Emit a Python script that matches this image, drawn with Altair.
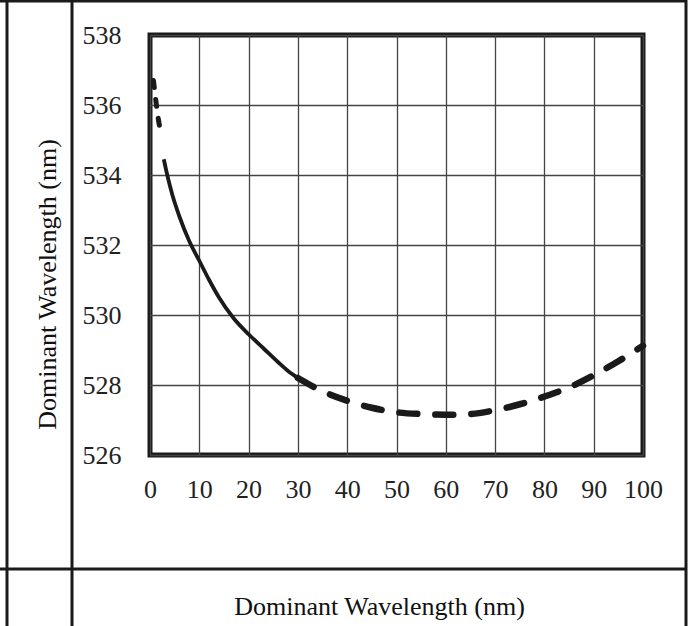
import altair as alt
import pandas as pd

# --- data ---
x_dash_a = [0.7, 1.3, 1.8, 2.3]
y_dash_a = [536.7, 536.0, 535.5, 535.15]

x_solid = [2.8, 3.5, 4.5, 6, 8, 10, 12, 14, 17, 20, 23, 26, 28, 30]
y_solid = [534.45, 534.0, 533.45, 532.8, 532.1, 531.55, 531.0, 530.5, 529.9, 529.45, 529.05, 528.65, 528.4, 528.2]

x_dash_b = [30, 35, 40, 45, 50, 55, 60, 65, 70, 75, 80, 85, 90, 95, 100]
y_dash_b = [528.2, 527.82, 527.55, 527.35, 527.22, 527.17, 527.15, 527.17, 527.28, 527.45, 527.67, 527.93, 528.28, 528.68, 529.12]

x_ticks = [0, 10, 20, 30, 40, 50, 60, 70, 80, 90, 100]
y_ticks = [526, 528, 530, 532, 534, 536, 538]

x_title = "Dominant Wavelength (nm)"
y_title = "Dominant Wavelength (nm)"

W, H = 493, 420
PAD_L, PAD_T = 150, 35
FONT = "Liberation Serif"
INK = "#1a1a1a"

df_a = pd.DataFrame({"x": x_dash_a, "y": y_dash_a})
df_s = pd.DataFrame({"x": x_solid, "y": y_solid})
df_b = pd.DataFrame({"x": x_dash_b, "y": y_dash_b})

xs = alt.Scale(domain=[0, 100], nice=False, zero=False)
ys = alt.Scale(domain=[526, 538], nice=False, zero=False)

x_enc = alt.X("x:Q", scale=xs,
              axis=alt.Axis(values=x_ticks, title=x_title, grid=True, ticks=False,
                            domain=False, labelPadding=21, labelFlush=False,
                            titleX=229, titleY=151, titleBaseline="middle",
                            titleAlign="center"))
y_enc = alt.Y("y:Q", scale=ys,
              axis=alt.Axis(values=y_ticks, title=y_title, grid=True, ticks=False,
                            domain=False, labelPadding=29, labelFlush=False,
                            titleX=-103, titleY=249, titleBaseline="middle",
                            titleAlign="center", titleAngle=270))

line_a = alt.Chart(df_a).mark_line(color=INK, strokeWidth=5, strokeDash=[7, 12],
                                   strokeCap="round", interpolate="monotone").encode(x=x_enc, y=y_enc)
line_s = alt.Chart(df_s).mark_line(color=INK, strokeWidth=3.8,
                                   interpolate="monotone").encode(x="x:Q", y="y:Q")
line_b = alt.Chart(df_b).mark_line(color=INK, strokeWidth=6.5, strokeDash=[18, 18],
                                   strokeCap="round", interpolate="monotone").encode(x="x:Q", y="y:Q")

# table cell borders around the figure (pixel positions relative to plot origin)
borders = pd.DataFrame({
    "px": [-150, -143, -78, 536, -150],
    "px2": [537, -143, -78, 536, 537],
    "py": [-34, -35, -35, -35, 534],
    "py2": [-34, 591, 591, 591, 534],
})
border_rules = alt.Chart(borders).mark_rule(color=INK, strokeWidth=3).encode(
    x=alt.X("px:Q", scale=None), x2="px2:Q",
    y=alt.Y("py:Q", scale=None), y2="py2:Q")

chart = alt.layer(line_a, line_s, line_b, border_rules).properties(
    width=W, height=H,
    autosize=alt.AutoSizeParams(type="none"),
    padding={"left": PAD_L, "top": PAD_T, "right": 690 - PAD_L - W, "bottom": 626 - PAD_T - H},
    background="white",
).configure_view(
    stroke=INK, strokeWidth=5
).configure_axis(
    gridColor="#444444", gridWidth=1.3, gridOpacity=1,
    labelFont=FONT, labelFontSize=26, labelColor="#222222",
    titleFont=FONT, titleFontSize=26, titleColor="#111111", titleFontWeight="normal",
)

chart.save("out.html", embed_options={"renderer": "svg", "actions": False})
